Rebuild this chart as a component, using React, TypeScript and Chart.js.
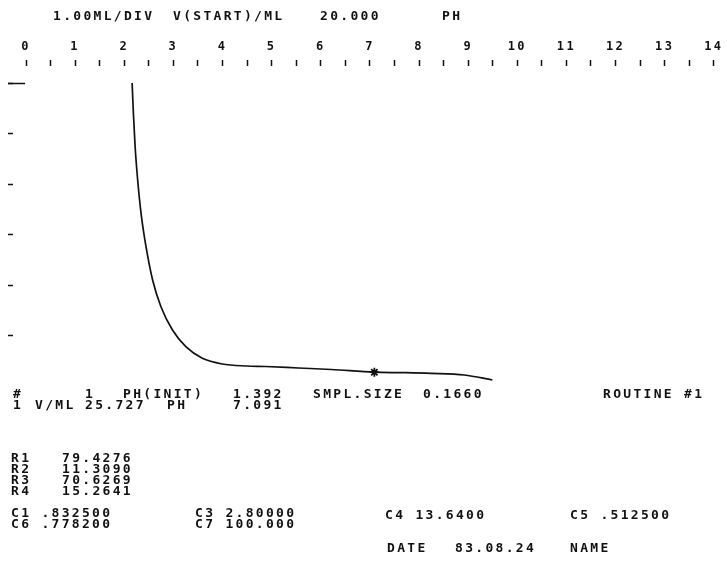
import React, { useEffect, useRef } from "react";
import { Chart, registerables } from "chart.js";

Chart.register(...registerables);

// ---- data ----
const curvePH = [2.16, 2.186, 2.221, 2.273, 2.342, 2.443, 2.577, 2.747, 2.982, 3.253, 3.589, 3.994, 4.5, 4.872, 5.547, 6.215, 7.091, 7.672, 8.239, 8.921, 9.494];
const curveVol = [20.0, 20.6, 21.257, 21.921, 22.58, 23.242, 23.901, 24.43, 24.891, 25.222, 25.451, 25.564, 25.604, 25.614, 25.644, 25.673, 25.727, 25.736, 25.75, 25.782, 25.881];
const endpointPH = [7.091];
const endpointVol = [25.727];

const titleTokens = ["1.00ML/DIV", "V(START)/ML", "20.000", "PH"];
const infoRow1 = ["#", "1", "PH(INIT)", "1.392", "SMPL.SIZE", "0.1660", "ROUTINE #1"];
const infoRow2 = ["1", "V/ML", "25.727", "PH", "7.091"];
const rLabels = ["R1", "R2", "R3", "R4"];
const rValues = ["79.4276", "11.3090", "70.6269", "15.2641"];
const cRow1 = ["C1 .832500", "C3 2.80000"];
const cRow2 = ["C6 .778200", "C7 100.000"];
const cRight = ["C4 13.6400", "C5 .512500"];
const footer = ["DATE", "83.08.24", "NAME"];

const PH_MIN = 0;
const PH_MAX = 14;
const VOL_MIN = 20;
const VOL_MAX = 26;

// ---- layout (positions only) ----
const FAMILY = "DejaVu Sans Mono";
const FONT = `bold 13px "${FAMILY}"`;
const SPACING = "2.3px";
const INK = "#111";

const textPlugin = {
  id: "printout",
  beforeDraw(chart: any) {
    chart.ctx.letterSpacing = SPACING;
  },
  afterDraw(chart: any) {
    const ctx = chart.ctx;
    ctx.save();
    // long start mark on the volume axis at V(START)
    const ys = chart.scales.y;
    const y0 = Math.round(ys.getPixelForValue(VOL_MIN)) + 0.5;
    ctx.strokeStyle = INK;
    ctx.lineWidth = 1.5;
    ctx.beginPath();
    ctx.moveTo(ys.right - 18, y0);
    ctx.lineTo(ys.right - 1, y0);
    ctx.stroke();

    ctx.font = FONT;
    ctx.fillStyle = INK;
    ctx.textBaseline = "middle";
    ctx.textAlign = "left";
    ctx.letterSpacing = SPACING;
    const put = (t: string, x: number, y: number) => ctx.fillText(t, x, y);

    const titleX = [53, 173, 320, 442];
    titleTokens.forEach((t, i) => put(t, titleX[i], 17));

    const row1X = [13, 85, 123, 233, 313, 423, 603];
    infoRow1.forEach((t, i) => put(t, row1X[i], 395));
    const row2X = [13, 35, 85, 167, 233];
    infoRow2.forEach((t, i) => put(t, row2X[i], 406));

    rLabels.forEach((t, i) => {
      put(t, 11, 459 + i * 11);
      put(rValues[i], 62, 459 + i * 11);
    });

    const cX = [11, 195];
    cRow1.forEach((t, i) => put(t, cX[i], 514));
    cRow2.forEach((t, i) => put(t, cX[i], 525));
    const crX = [385, 570];
    cRight.forEach((t, i) => put(t, crX[i], 516));

    const fX = [387, 455, 570];
    footer.forEach((t, i) => put(t, fX[i], 549));
    ctx.restore();
  },
};

export default function App() {
  const ref = useRef<HTMLCanvasElement | null>(null);

  useEffect(() => {
    if (!ref.current) return;
    const chart = new Chart(ref.current, {
      type: "scatter",
      data: {
        datasets: [
          {
            data: curvePH.map((p, i) => ({ x: p, y: curveVol[i] })),
            showLine: true,
            borderColor: INK,
            borderWidth: 1.7,
            pointRadius: 0,
            cubicInterpolationMode: "monotone",
            fill: false,
          },
          {
            data: endpointPH.map((p, i) => ({ x: p, y: endpointVol[i] })),
            pointStyle: "star",
            pointRadius: 4.5,
            borderColor: INK,
            borderWidth: 1.8,
            backgroundColor: INK,
          },
        ],
      },
      options: {
        animation: false,
        responsive: false,
        devicePixelRatio: 1,
        layout: { padding: { left: 0, top: 0, right: 9.4, bottom: 194 } },
        plugins: { legend: { display: false }, tooltip: { enabled: false } },
        scales: {
          x: {
            type: "linear",
            position: "top",
            min: PH_MIN,
            max: PH_MAX,
            afterFit: (s: any) => {
              s.height = 83;
            },
            ticks: {
              stepSize: 0.5,
              autoSkip: false,
              maxRotation: 0,
              padding: 6,
              color: INK,
              font: { family: FAMILY, size: 12, weight: "bold" },
              callback: (v: any) => (Number.isInteger(v) ? String(v) : ""),
            },
            grid: {
              drawOnChartArea: false,
              tickLength: 23,
              tickBorderDash: [6, 17],
              tickColor: INK,
              tickWidth: 1.5,
            },
            border: { display: false },
          },
          y: {
            type: "linear",
            position: "left",
            reverse: true,
            min: VOL_MIN,
            max: VOL_MAX,
            afterFit: (s: any) => {
              s.width = 26;
            },
            ticks: { display: false, stepSize: 1 },
            grid: {
              drawOnChartArea: false,
              tickLength: 18,
              tickBorderDash: [5, 13],
              tickColor: (c: any) => (c.tick && c.tick.value > 25.5 ? "rgba(0,0,0,0)" : INK),
              tickWidth: 1.5,
            },
            border: { display: false },
          },
        },
      },
      plugins: [textPlugin],
    });
    return () => chart.destroy();
  }, []);

  return (
    <div style={{ position: "absolute", left: 0, top: 0, width: 727, height: 580, background: "#fff" }}>
      <canvas ref={ref} width={727} height={580} style={{ display: "block" }} />
    </div>
  );
}
